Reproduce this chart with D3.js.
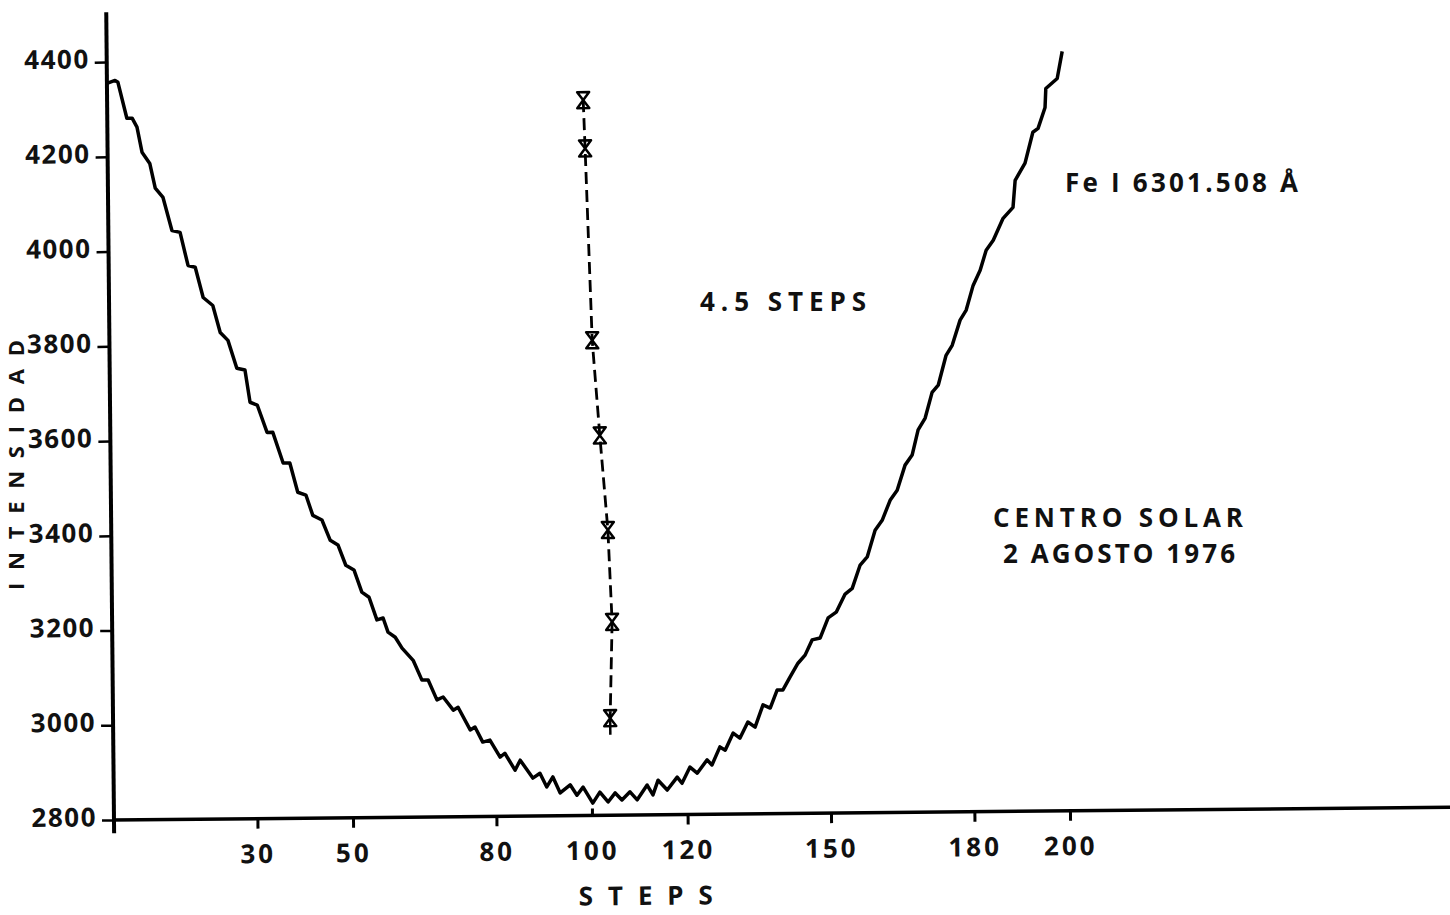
<!DOCTYPE html>
<html>
<head>
<meta charset="utf-8">
<script src="https://cdn.jsdelivr.net/npm/d3@7"></script>
<style>
  body { margin: 0; background: #fff; }
  text { font-family: "Open Sans", "DejaVu Sans", sans-serif; font-weight: 700; fill: #111; }
</style>
</head>
<body>
<script>
// intensity profile (step, counts)
const steps = [0, 1.7, 2.3, 4.1, 5.2, 6.2, 7.2, 8.8, 9.9, 11.5, 13.3, 15.0, 16.6, 18.1, 19.7, 21.7,
  23.2, 24.8, 26.6, 28.3, 29.3, 30.8, 32.8, 34.0, 36.1, 37.5, 39.1, 40.8, 42.2, 44.1, 45.8, 47.4,
  49.0, 50.7, 52.3, 53.8, 55.4, 56.7, 57.7, 59.2, 60.6, 62.9, 64.7, 66.0, 67.8, 69.1, 71.2, 72.2,
  74.7, 75.7, 77.3, 78.8, 80.9, 81.9, 84.0, 85.1, 87.7, 89.2, 90.6, 91.9, 93.4, 95.5, 96.9, 98.2,
  100.2, 101.7, 103.4, 104.9, 106.3, 108.0, 109.5, 111.6, 112.8, 113.9, 115.8, 117.9, 118.9, 120.6,
  122.1, 124.2, 125.2, 126.9, 128.0, 129.7, 131.1, 132.8, 134.3, 136.0, 137.5, 139.0, 140.2, 141.7,
  143.4, 144.9, 146.4, 148.1, 149.8, 151.5, 153.4, 154.9, 156.6, 158.1, 159.8, 161.3, 163.0, 164.5,
  166.2, 167.7, 169.0, 170.5, 172.0, 173.3, 175.0, 176.3, 178.0, 179.3, 180.8, 182.3, 183.6, 185.1,
  187.2, 189.3, 189.8, 191.9, 193.6, 194.7, 196.2, 196.4, 198.8, 199.9];
const intensity = [4355, 4361, 4357, 4281, 4281, 4262, 4209, 4185, 4133, 4113, 4043, 4039, 3969, 3965, 3901, 3884,
  3827, 3810, 3751, 3747, 3679, 3673, 3615, 3615, 3550, 3550, 3488, 3482, 3439, 3429, 3386, 3376,
  3333, 3323, 3276, 3265, 3217, 3221, 3191, 3180, 3157, 3131, 3089, 3089, 3047, 3053, 3025, 3031,
  2983, 2989, 2957, 2961, 2925, 2933, 2897, 2918, 2880, 2890, 2861, 2882, 2848, 2865, 2843, 2860,
  2826, 2849, 2828, 2847, 2832, 2849, 2832, 2863, 2842, 2873, 2852, 2879, 2866, 2900,
  2887, 2915, 2904, 2942, 2935, 2971, 2960, 2994, 2983, 3030, 3023, 3061, 3061, 3088,
  3117, 3134, 3166, 3170, 3212, 3224, 3262, 3274, 3323, 3340, 3396, 3417, 3459, 3480,
  3533, 3554, 3607, 3632, 3686, 3701, 3764, 3785, 3838, 3859, 3911, 3943, 3985, 4006,
  4052, 4075, 4132, 4168, 4233, 4241, 4285, 4325, 4346, 4403];

// bisector of the line
const bisSteps = [99.6, 99.9, 101.0, 102.4, 103.9, 104.6, 104.0];
const bisIntensity = [4310, 4208, 3803, 3602, 3402, 3208, 3005];

const xTicks = [30, 50, 80, 100, 120, 150, 180, 200];
const yTicks = [2800, 3000, 3200, 3400, 3600, 3800, 4000, 4200, 4400];

const svg = d3.select("body").append("svg")
    .attr("width", 1450)
    .attr("height", 915);

// the scan is tilted a little, so the whole plot frame is too
const g = svg.append("g")
    .attr("transform", "translate(114,820) rotate(-0.55)");

const x = d3.scaleLinear().domain([0, 200]).range([0, 956]);
const y = d3.scaleLinear().domain([2800, 4400]).range([0, -758]);

// axis lines
g.append("line")
    .attr("x1", 0).attr("x2", 0)
    .attr("y1", y(2772)).attr("y2", y(4505))
    .attr("stroke", "#000").attr("stroke-width", 4);
g.append("line")
    .attr("x1", -2).attr("x2", x(285))
    .attr("y1", 0).attr("y2", 0)
    .attr("stroke", "#000").attr("stroke-width", 3.5);

const yAxis = g.append("g")
    .call(d3.axisLeft(y).tickValues(yTicks).tickSize(12).tickPadding(5).tickFormat(d3.format("d")));
yAxis.select(".domain").remove();
yAxis.selectAll("line").attr("stroke", "#000").attr("stroke-width", 2.5);
yAxis.selectAll("text")
    .attr("dy", "0.22em")
    .style("font-size", "26px")
    .style("letter-spacing", "1.5px");

const xAxis = g.append("g")
    .call(d3.axisBottom(x).tickValues(xTicks).tickSize(10).tickPadding(16));
xAxis.select(".domain").remove();
xAxis.selectAll("line").attr("stroke", "#000").attr("stroke-width", 3)
    .filter(d => d === 100).attr("y2", -7);
xAxis.selectAll("text")
    .style("font-size", "26px")
    .style("letter-spacing", "3px");

// profile
const profile = steps.map((s, i) => ({s: s, v: intensity[i]}));
const line = d3.line().x(d => x(d.s)).y(d => y(d.v));

g.append("path")
    .datum(profile)
    .attr("d", line)
    .attr("fill", "none")
    .attr("stroke", "#000")
    .attr("stroke-width", 3.5)
    .attr("stroke-linejoin", "round");

// bisector
const bis = bisSteps.map((s, i) => ({s: s, v: bisIntensity[i]}));
g.append("path")
    .datum(bis)
    .attr("d", line)
    .attr("fill", "none")
    .attr("stroke", "#000")
    .attr("stroke-width", 2.8)
    .attr("stroke-dasharray", "12,6");
const last = bis[bis.length - 1];
g.append("line")
    .attr("x1", x(last.s)).attr("x2", x(last.s))
    .attr("y1", y(last.v)).attr("y2", y(last.v - 35))
    .attr("stroke", "#000").attr("stroke-width", 2.5);

g.selectAll(".mark")
    .data(bis)
    .join("path")
    .attr("class", "mark")
    .attr("transform", d => `translate(${x(d.s)},${y(d.v)})`)
    .attr("d", "M-6,-8L6,-8L-6,8L6,8Z")
    .attr("fill", "none")
    .attr("stroke", "#000")
    .attr("stroke-width", 2.5)
    .attr("stroke-linejoin", "round");

// titles
g.append("text")
    .attr("x", 464).attr("y", 90)
    .attr("textLength", 134).attr("lengthAdjust", "spacing")
    .style("font-size", "26px")
    .text("STEPS");

svg.append("text")
    .attr("transform", "translate(24,590) rotate(-90)")
    .attr("textLength", 250).attr("lengthAdjust", "spacing")
    .style("font-size", "22px")
    .text("INTENSIDAD");

// notes
svg.append("text")
    .attr("x", 1065).attr("y", 192)
    .attr("textLength", 233).attr("lengthAdjust", "spacing")
    .style("font-size", "26px")
    .text("Fe I 6301.508 Å");

svg.append("text")
    .attr("x", 700).attr("y", 311)
    .attr("textLength", 166).attr("lengthAdjust", "spacing")
    .style("font-size", "26px")
    .text("4.5 STEPS");

svg.append("text")
    .attr("x", 993).attr("y", 527)
    .attr("textLength", 250).attr("lengthAdjust", "spacing")
    .style("font-size", "26px")
    .text("CENTRO SOLAR");

svg.append("text")
    .attr("x", 1003).attr("y", 563)
    .attr("textLength", 232).attr("lengthAdjust", "spacing")
    .style("font-size", "26px")
    .text("2 AGOSTO 1976");
</script>
</body>
</html>
